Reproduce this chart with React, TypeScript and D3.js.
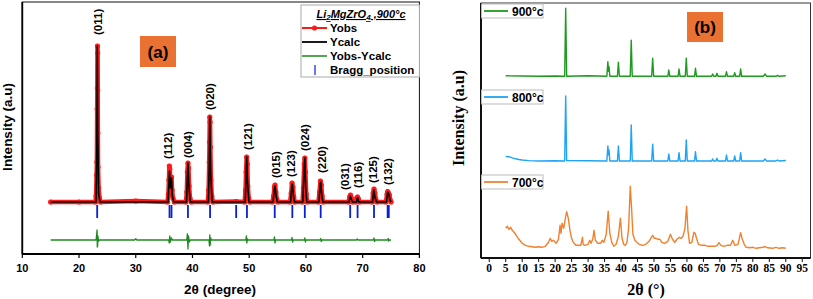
import React from "react";
import * as d3 from "d3";

// ---- panel (a): Rietveld refinement, Li2MgZrO4 900°C ----
const obsPattern: [number, number][] = [
  [15, 0], [20, 0], [22.9, 0], [23.0, 6], [23.1, 27], [23.15, 40], [23.2, 93], [23.22, 114], [23.25, 156],
  [23.28, 149], [23.3, 112], [23.32, 69], [23.35, 35], [23.45, 14], [23.6, 4], [23.8, 0], [30, 1],
  [35.6, 0], [35.75, 8], [35.85, 22], [35.92, 36], [36.0, 33], [36.1, 20], [36.2, 15], [36.3, 25], [36.4, 12], [36.55, 4], [36.8, 0],
  [38.85, 0], [39.0, 10], [39.1, 30], [39.2, 39], [39.3, 34], [39.4, 16], [39.55, 4], [39.8, 0],
  [42.7, 0], [42.85, 12], [42.95, 40], [43.0, 60], [43.05, 85], [43.1, 80], [43.15, 55], [43.25, 22], [43.4, 6], [43.6, 0],
  [47.7, 0.5], [49.2, 0], [49.35, 12], [49.45, 30], [49.55, 45], [49.65, 38], [49.75, 16], [49.9, 4], [50.1, 0],
  [54.1, 0], [54.3, 6], [54.45, 15], [54.55, 17], [54.7, 10], [54.85, 3], [55.0, 0],
  [57.2, 0], [57.4, 9], [57.55, 19], [57.7, 15], [57.85, 5], [58.0, 0],
  [59.4, 0], [59.55, 14], [59.7, 38], [59.8, 44], [59.9, 30], [60.05, 8], [60.2, 0],
  [62.2, 0], [62.4, 10], [62.55, 21], [62.7, 17], [62.85, 6], [63.0, 0],
  [67.5, 0], [67.7, 5], [67.85, 7], [68.0, 4], [68.2, 0],
  [68.8, 0], [68.95, 4], [69.1, 5], [69.25, 3], [69.4, 0],
  [71.7, 0], [71.85, 9], [72.0, 13], [72.15, 9], [72.3, 3], [72.5, 0],
  [74.1, 0], [74.3, 8], [74.4, 10.5], [74.55, 9], [74.7, 7], [74.85, 2], [75.0, 0],
];

const calcPattern: [number, number][] = [
  [15, 0], [23.0, 0], [23.15, 60], [23.22, 156], [23.3, 70], [23.45, 8], [23.7, 0],
  [35.7, 0], [35.85, 20], [35.95, 31], [36.1, 14], [36.3, 24], [36.45, 6], [36.7, 0],
  [38.95, 0], [39.1, 25], [39.2, 39], [39.35, 18], [39.6, 0],
  [42.8, 0], [42.95, 35], [43.05, 85], [43.2, 30], [43.45, 0],
  [49.3, 0], [49.45, 25], [49.55, 45], [49.7, 20], [49.95, 0],
  [54.2, 0], [54.45, 14], [54.55, 16], [54.75, 6], [54.95, 0],
  [57.3, 0], [57.5, 16], [57.6, 18], [57.8, 6], [58.0, 0],
  [59.45, 0], [59.65, 30], [59.8, 44], [59.95, 15], [60.15, 0],
  [62.3, 0], [62.5, 18], [62.6, 20], [62.8, 6], [63.0, 0],
  [67.6, 0], [67.8, 6], [68.0, 3], [68.2, 0], [68.9, 0], [69.1, 4.5], [69.3, 0],
  [71.75, 0], [71.95, 12], [72.2, 4], [72.45, 0], [74.2, 0], [74.4, 10], [74.6, 8], [74.8, 2], [75, 0],
];

const diffPattern: [number, number][] = [
  [15, 0], [23.0, 0], [23.1, 5], [23.18, 10], [23.22, -7], [23.28, -6], [23.32, 4], [23.45, -1], [23.6, 0],
  [29.8, 0], [30.0, 1.2], [30.2, 0],
  [35.8, 0], [35.9, -3], [36.0, 4], [36.1, -2], [36.3, 2], [36.45, 0],
  [39.0, 0], [39.1, 6], [39.2, -9], [39.3, 4], [39.45, -2], [39.6, 0],
  [42.9, 0], [43.0, -6], [43.05, 5], [43.12, -5], [43.2, 2], [43.35, 0],
  [49.4, 0], [49.5, 4], [49.58, -3], [49.7, 1], [49.8, 0],
  [54.35, 0], [54.45, 3], [54.55, -3], [54.65, 0],
  [57.45, 0], [57.55, 2.5], [57.65, -2], [57.75, 0],
  [59.7, 0], [59.8, 2], [59.9, -2], [60.0, 0],
  [62.5, 0], [62.6, 1.5], [62.7, -1.5], [62.8, 0],
  [68.9, 0], [69.05, 1], [69.2, 0], [71.85, 0], [72.0, 2], [72.1, -1.5], [72.2, 0],
  [74.4, 0], [74.5, 1.5], [74.6, -1], [74.7, 0], [75, 0],
];
const diffOffset = -38;

const braggPositions = [23.2, 35.95, 36.3, 39.2, 43.1, 47.7, 49.6, 54.5, 57.6, 59.8, 62.6, 67.8, 69.1, 72.0, 74.4, 74.6];

const hklLabels = ["(011)", "(112)", "(004)", "(020)", "(121)", "(015)", "(123)", "(024)", "(220)", "(031)", "(116)", "(125)", "(132)"];
const hklTheta = [23.4, 35.7, 39.2, 43.0, 49.8, 54.8, 57.4, 59.8, 62.8, 66.9, 69.1, 71.9, 74.5];
const hklLabelLevel = [167, 43, 44, 92, 52, 24, 25, 51, 29, 12, 14, 19, 17];

const xTicksA = [10, 20, 30, 40, 50, 60, 70, 80];

// ---- panel (b): patterns at three temperatures ----
const pattern700: [number, number][] = [
  [5, 20], [5.5, 22], [6, 19], [6.5, 21], [7, 18], [8, 14], [9, 9], [10, 5], [11, 3], [12, 2], [13, 1.5], [14, 1],
  [15, 1.5], [16, 1], [17, 2], [18, 6], [18.5, 10], [19, 7], [19.5, 8], [20.3, 5], [21, 9], [21.5, 23], [21.8, 15],
  [22.1, 25], [22.6, 20], [23.1, 30], [23.5, 36.6], [24, 30], [24.5, 18], [25, 10], [25.5, 6], [26.3, 3], [27, 3],
  [27.8, 3], [28.1, 8], [28.3, 11], [28.5, 4], [29, 3], [30, 4], [30.5, 8], [30.9, 5], [31.4, 9], [31.8, 18], [32.2, 8],
  [33, 5], [33.8, 5], [34.3, 8], [34.8, 6], [35.5, 14], [36.1, 37], [36.6, 15], [37.2, 6], [37.8, 2], [38.5, 4],
  [39.2, 12], [39.8, 30], [40.3, 10], [40.8, 4], [41.3, 3], [41.8, 6], [42.3, 20], [42.8, 62], [43.2, 40], [43.6, 14],
  [44.2, 8], [44.8, 6], [45.5, 4], [46.5, 3], [47.5, 4], [48.5, 7], [49.2, 11], [49.6, 13], [50.1, 10], [50.6, 10],
  [51.2, 9], [51.8, 9], [52.4, 6], [53.2, 5], [54.2, 7], [55, 14], [55.6, 9], [56.3, 6], [57, 9], [57.7, 11], [58.3, 10],
  [58.8, 12], [59.4, 20], [59.9, 42], [60.3, 18], [60.8, 5], [61.5, 6], [62.1, 16], [62.5, 15], [62.9, 10], [63.5, 4],
  [64.5, 3], [65.5, 3], [66.5, 2], [67.5, 2], [68.5, 2], [69.2, 3], [69.7, 5.6], [70.3, 3], [71.2, 2], [72.2, 3],
  [73.2, 3], [73.9, 8], [74.5, 3], [75.5, 4], [76.3, 15.6], [76.8, 9], [77.4, 4], [78, 1], [79, 0.5], [80, 1], [81, 0],
  [82, 0.5], [83, 1], [83.7, 1.6], [84.5, 0.5], [86, 0], [87, 1], [88, 0], [89, 0.5], [90, 0],
];

const pattern800: [number, number][] = [
  [5, 4.5], [6, 4.3], [7, 3.2], [8, 2.2], [9, 1.5], [10, 1], [12, 0.4], [15, 0], [20, 0.3], [22.9, 0], [23.2, 65],
  [23.5, 0.5], [30, 0.3], [35.7, 0], [36.0, 15], [36.2, 6], [36.35, 11], [36.6, 0], [38.9, 0], [39.2, 15], [39.5, 0],
  [42.8, 0], [43.1, 36], [43.4, 0], [49.3, 0], [49.6, 16.7], [49.9, 0], [54.2, 0], [54.5, 7], [54.8, 0], [57.3, 0],
  [57.6, 8.3], [57.9, 0], [59.5, 0], [59.8, 21], [60.1, 0], [62.3, 0], [62.6, 9.3], [62.9, 0], [67.5, 0], [67.8, 2],
  [68.1, 0], [68.8, 0], [69.1, 2.7], [69.4, 0], [71.7, 0], [72.0, 6], [72.3, 0], [74.2, 0], [74.5, 5], [74.8, 0],
  [76.0, 0], [76.3, 8.3], [76.6, 0], [83.2, 0], [83.7, 2], [84.2, 0], [87.0, 0], [87.5, 1], [88.0, 0], [90, 0.5],
];

const pattern900: [number, number][] = [
  [5, 0.5], [10, 0.3], [15, 0], [20, 0.3], [22.9, 0], [23.2, 68], [23.5, 0], [30, 0.5], [35.7, 0], [36.0, 14.6],
  [36.2, 5], [36.35, 9.6], [36.6, 0], [38.9, 0], [39.2, 14], [39.5, 0], [42.8, 0], [43.1, 36], [43.4, 0], [49.3, 0],
  [49.6, 18], [49.9, 0], [54.2, 0], [54.5, 6.3], [54.8, 0], [57.3, 0], [57.6, 7.3], [57.9, 0], [59.5, 0], [59.8, 18],
  [60.1, 0], [62.3, 0], [62.6, 8], [62.9, 0], [67.5, 0], [67.8, 2.3], [68.1, 0], [68.8, 0], [69.1, 3], [69.4, 0],
  [71.7, 0], [72.0, 4.6], [72.3, 0], [74.2, 0], [74.5, 3.6], [74.8, 0], [76.0, 0], [76.3, 7.3], [76.6, 0], [83.2, 0],
  [83.7, 2.3], [84.2, 0], [87.0, 0], [87.5, 1], [88.0, 0], [90, 0.5],
];

const tempNames = ["700°c", "800°c", "900°c"];
const tempPatterns = [pattern700, pattern800, pattern900];
const tempOffsets = [9.7, 97, 181.7];
const tempColors = ["#F0812F", "#1FA3F5", "#1E9A1E"];
const legendRowY = [182, 97, 11];

const xTicksB = d3.range(0, 100, 5);

const sans = "'Liberation Sans', Arial, sans-serif";
const serif = "'Liberation Serif', 'Times New Roman', serif";

export default function App() {
  const xA = d3.scaleLinear().domain([10, 80]).range([22.3, 419.4]);
  const yA = d3.scaleLinear().domain([-52, 200]).range([254, 2]);
  const lineA = d3.line<[number, number]>().x(d => xA(d[0])).y(d => yA(d[1]));
  const lineDiff = d3.line<[number, number]>().x(d => xA(d[0])).y(d => yA(d[1] + diffOffset));

  const xB = d3.scaleLinear().domain([-2.5, 97.5]).range([481, 810.5]);
  const yB = d3.scaleLinear().domain([0, 255]).range([258, 3]);

  return (
    <svg width={813} height={299} style={{ position: "absolute", left: 0, top: 0, background: "#fff" }}>
      {/* ===== panel (a) ===== */}
      <rect x={22.3} y={2} width={397.1} height={252} fill="none" stroke="#111" strokeWidth={1} />
      <line x1={22.3} x2={22.3} y1={2} y2={254} stroke="#000" strokeWidth={1.8} />
      <line x1={22.3} x2={419.4} y1={254} y2={254} stroke="#000" strokeWidth={1.8} />
      {xTicksA.map(t => (
        <g key={t}>
          <line x1={xA(t)} x2={xA(t)} y1={254} y2={258} stroke="#000" strokeWidth={1.2} />
          <text x={xA(t)} y={272} textAnchor="middle" fontFamily={sans} fontWeight="bold" fontSize={11}>{t}</text>
        </g>
      ))}
      <text x={220} y={294} textAnchor="middle" fontFamily={sans} fontWeight="bold" fontSize={13.5}>2θ (degree)</text>
      <text transform="translate(12,127) rotate(-90)" textAnchor="middle" fontFamily={sans} fontWeight="bold" fontSize={13.5}>Intensity (a.u)</text>

      {/* observed */}
      <path d={lineA(obsPattern) || ""} fill="none" stroke="#FF1A1A" strokeWidth={4.5} strokeLinejoin="round" strokeLinecap="round" />
      {obsPattern.map((d, i) => (
        <circle key={i} cx={xA(d[0])} cy={yA(d[1])} r={2.6} fill="#FF1A1A" />
      ))}
      {/* calculated */}
      <path d={lineA(calcPattern) || ""} fill="none" stroke="#000" strokeWidth={1.6} strokeLinejoin="round" />
      {/* bragg */}
      {braggPositions.map((p, i) => (
        <line key={i} x1={xA(p)} x2={xA(p)} y1={yA(-3)} y2={yA(-16)} stroke="#0A1FD0" strokeWidth={1.8} />
      ))}
      {/* difference */}
      <path d={lineDiff(diffPattern) || ""} fill="none" stroke="#1C8A1C" strokeWidth={1.3} strokeLinejoin="round" />

      {hklLabels.map((lab, i) => (
        <text key={lab} transform={`translate(${xA(hklTheta[i])},${yA(hklLabelLevel[i])}) rotate(-90)`} dy="0.35em"
          fontFamily={sans} fontWeight="bold" fontSize={11.5}>{lab}</text>
      ))}

      <rect x={140} y={36} width={36} height={31} fill="#E97132" />
      <text x={158} y={57.5} textAnchor="middle" fontFamily={sans} fontWeight="bold" fontSize={17}>(a)</text>

      {/* legend (a) */}
      <rect x={301} y={5} width={118.4} height={72} fill="#fff" stroke="#aaa" strokeWidth={1} />
      <text x={361} y={18} textAnchor="middle" fontFamily={sans} fontWeight="bold" fontStyle="italic" fontSize={11}
        textDecoration="underline">
        Li<tspan fontSize={8} dy={2}>2</tspan><tspan dy={-2}>MgZrO</tspan><tspan fontSize={8} dy={2}>4</tspan><tspan dy={-2}> ,900°c</tspan>
      </text>
      <line x1={302} x2={327} y1={28} y2={28} stroke="#FF1A1A" strokeWidth={2} />
      <circle cx={314.5} cy={28} r={2.6} fill="#FF1A1A" />
      <text x={330} y={32} fontFamily={sans} fontWeight="bold" fontSize={11.5}>Yobs</text>
      <line x1={302} x2={327} y1={42} y2={42} stroke="#000" strokeWidth={1.8} />
      <text x={330} y={46} fontFamily={sans} fontWeight="bold" fontSize={11.5}>Ycalc</text>
      <line x1={302} x2={327} y1={56} y2={56} stroke="#1C8A1C" strokeWidth={1.5} />
      <text x={330} y={60} fontFamily={sans} fontWeight="bold" fontSize={11.5}>Yobs-Ycalc</text>
      <line x1={315} x2={315} y1={65} y2={75} stroke="#0A1FD0" strokeWidth={1.2} />
      <text x={330} y={74} fontFamily={sans} fontWeight="bold" fontSize={11.5}>Bragg_position</text>

      {/* ===== panel (b) ===== */}
      <rect x={481} y={3} width={329.5} height={255} fill="none" stroke="#333" strokeWidth={1} />
      <line x1={481} x2={481} y1={3} y2={258} stroke="#111" strokeWidth={2} />
      <line x1={481} x2={810.5} y1={258} y2={258} stroke="#111" strokeWidth={2} />
      {xTicksB.map(t => (
        <g key={t}>
          <line x1={xB(t)} x2={xB(t)} y1={258} y2={262} stroke="#111" strokeWidth={1} />
          <text x={xB(t)} y={272} textAnchor="middle" fontFamily={serif} fontWeight="bold" fontSize={11.5}>{t}</text>
        </g>
      ))}
      <text x={646} y={295} textAnchor="middle" fontFamily={serif} fontWeight="bold" fontSize={16}>2θ (°)</text>
      <text transform="translate(464,118) rotate(-90)" textAnchor="middle" fontFamily={serif} fontWeight="bold" fontSize={16}>Intensity (a.u)</text>

      {tempPatterns.map((pat, i) => {
        const line = d3.line<[number, number]>().x(d => xB(d[0])).y(d => yB(d[1] + tempOffsets[i]));
        return <path key={i} d={line(pat) || ""} fill="none" stroke={tempColors[i]} strokeWidth={1.4} strokeLinejoin="round" />;
      })}

      {tempNames.map((n, i) => (
        <g key={n}>
          <rect x={481.5} y={legendRowY[i] - 7} width={61.5} height={14} fill="#fff" stroke="#bbb" strokeWidth={1} />
          <line x1={484} x2={508} y1={legendRowY[i]} y2={legendRowY[i]} stroke={tempColors[i]} strokeWidth={1.8} />
          <text x={512} y={legendRowY[i] + 4.5} fontFamily={sans} fontWeight="bold" fontSize={12}>{n}</text>
        </g>
      ))}

      <rect x={687} y={12} width={36} height={30} fill="#E97132" />
      <text x={705} y={33} textAnchor="middle" fontFamily={sans} fontWeight="bold" fontSize={17}>(b)</text>
    </svg>
  );
}
